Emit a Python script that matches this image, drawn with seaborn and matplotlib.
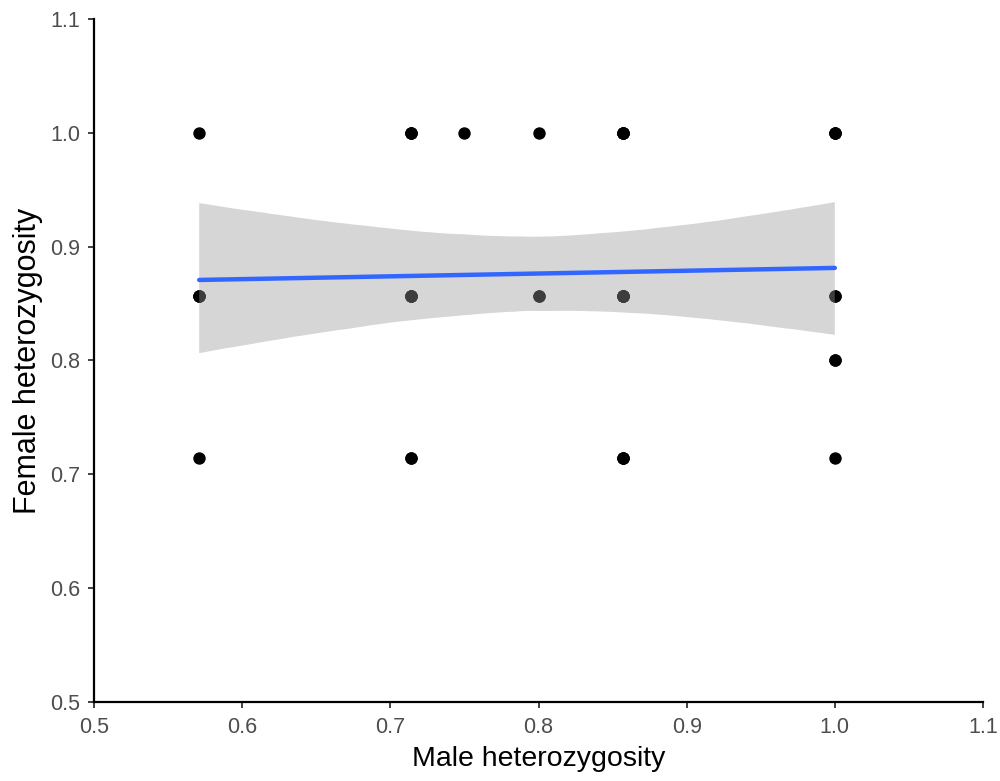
import numpy as np
import pandas as pd
import matplotlib
matplotlib.use("Agg")
import matplotlib.pyplot as plt
import seaborn as sns

# Heterozygosity observations (male, female); repeated rows are loci
# that share the same pair of values.
male_het = [
    0.571, 0.571, 0.571, 0.571, 0.571,
    0.714, 0.714, 0.714, 0.714, 0.714, 0.714, 0.714, 0.714, 0.714,
    0.75,
    0.8, 0.8, 0.8,
    0.857, 0.857, 0.857, 0.857, 0.857, 0.857, 0.857, 0.857, 0.857, 0.857, 0.857, 0.857,
    1.0, 1.0, 1.0, 1.0, 1.0, 1.0, 1.0, 1.0,
]
female_het = [
    1.0, 0.857, 0.857, 0.857, 0.714,
    1.0, 1.0, 1.0, 0.857, 0.857, 0.857, 0.857, 0.714, 0.714,
    1.0,
    1.0, 0.857, 0.857,
    1.0, 1.0, 1.0, 1.0, 0.857, 0.857, 0.857, 0.857, 0.857, 0.714, 0.714, 0.714,
    1.0, 1.0, 1.0, 0.857, 0.857, 0.8, 0.8, 0.714,
]
ticks = [0.5, 0.6, 0.7, 0.8, 0.9, 1.0, 1.1]

df = pd.DataFrame({"male": male_het, "female": female_het})

sns.set_theme(style="ticks")
plt.rcParams["font.family"] = ["Liberation Sans", "DejaVu Sans"]

fig = plt.figure(figsize=(10, 7.81), dpi=100)
ax = fig.add_axes([0.094, 0.1012, 0.889, 0.8745])

sns.regplot(
    data=df, x="male", y="female", ax=ax,
    ci=95, n_boot=20000, seed=7, truncate=True,
    scatter_kws=dict(s=80, color="black", linewidths=0, alpha=1),
    line_kws=dict(color="#3366FF", linewidth=3.2),
)
# grey confidence band like ggplot's geom_smooth
for coll in ax.collections[1:]:
    coll.set_facecolor("#999999")
    coll.set_alpha(0.4)
    coll.set_edgecolor("none")

ax.set_xlim(0.5, 1.1)
ax.set_ylim(0.5, 1.1)
ax.set_xticks(ticks)
ax.set_yticks(ticks)
ax.set_xticklabels([f"{t:.1f}" for t in ticks])
ax.set_yticklabels([f"{t:.1f}" for t in ticks])
ax.tick_params(axis="both", labelsize=15.5, labelcolor="#4D4D4D",
               length=4, width=1.3, color="#333333")
ax.tick_params(axis="x", pad=6.5)
ax.tick_params(axis="y", pad=6)
for side in ("left", "bottom"):
    ax.spines[side].set_linewidth(1.6)
    ax.spines[side].set_color("black")
ax.spines["top"].set_visible(False)
ax.spines["right"].set_visible(False)

ax.set_xlabel("Male heterozygosity", fontsize=20.5, color="black", labelpad=6)
ax.set_ylabel("Female heterozygosity", fontsize=22, color="black", labelpad=5)

fig.savefig("out.png", dpi=100)
